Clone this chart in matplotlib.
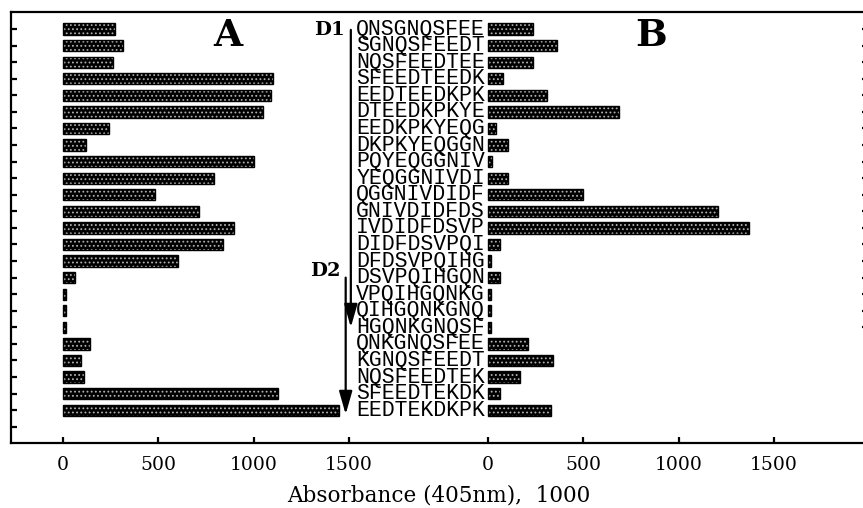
import matplotlib
matplotlib.use('Agg')
import matplotlib.pyplot as plt
import numpy as np

peptides = ["QNSGNQSFEE", "SGNQSFEEDT", "NQSFEEDTEE", "SFEEDTEEDK", "EEDTEEDKPK",
            "DTEEDKPKYE", "EEDKPKYEQG", "DKPKYEQGGN", "PQYEQGGNIV", "YEQGGNIVDI",
            "QGGNIVDIDF", "GNIVDIDFDS", "IVDIDFDSVP", "DIDFDSVPQI", "DFDSVPQIHG",
            "DSVPQIHGQN", "VPQIHGQNKG", "QIHGQNKGNQ", "HGQNKGNQSF", "QNKGNQSFEE",
            "KGNQSFEEDT", "NQSFEEDTEK", "SFEEDTEKDK", "EEDTEKDKPK"]
absorb_A = [273, 313, 261, 1100, 1090, 1051, 241, 119, 1002, 794, 483, 715,
            897, 841, 605, 65, 18, 18, 18, 142, 94, 112, 1130, 1448]
absorb_B = [238, 360, 238, 80, 308, 689, 42, 103, 20, 103, 497, 1209,
            1371, 65, 15, 63, 15, 15, 15, 210, 341, 166, 63, 332]
panel_B_offset = 2230
tick_values = [0, 500, 1000, 1500]
xlabel = "Absorbance (405nm),  1000"

plt.rcParams['font.family'] = ['DejaVu Serif']
plt.rcParams['hatch.linewidth'] = 0.8

fig = plt.figure(figsize=(8.63, 5.08), dpi=100)
ax = fig.add_axes([11/863, 1-443/508, (866-11)/863, (443-12)/508])

rows = np.arange(len(peptides))
h = 0.68
xa = np.array(absorb_A)
xb = np.array(absorb_B)
for vals, left in [(xa, 0), (xb, panel_B_offset)]:
    ax.barh(rows, vals, left=left, height=h, color='black', edgecolor='#b0b0b0',
            hatch='....', linewidth=0, zorder=2)
    ax.barh(rows, vals, left=left, height=h, fill=False, edgecolor='black',
            linewidth=1.0, zorder=3)

for r, p in zip(rows, peptides):
    ax.text(panel_B_offset - 16, r, p, ha='right', va='center',
            fontfamily='Liberation Mono', fontsize=15.5, color='black')

ax.text(865, 0.36, "A", ha='center', va='center', fontsize=27, fontweight='bold')
ax.text(panel_B_offset + 855, 0.36, "B", ha='center', va='center', fontsize=27, fontweight='bold')
ax.text(1479, 0.05, "D1", ha='right', va='center', fontsize=14, fontweight='bold')
ax.text(1454, 14.6, "D2", ha='right', va='center', fontsize=14, fontweight='bold')

arrow = dict(arrowstyle='-|>,head_length=0.7,head_width=0.2', lw=1.6, color='black',
             shrinkA=0, shrinkB=0, mutation_scale=20)
ax.annotate("", xy=(1510, 18.0), xytext=(1510, 0.05), arrowprops=arrow)
ax.annotate("", xy=(1483, 23.25), xytext=(1483, 15.0), arrowprops=arrow)

ax.set_xlim(-273, 4213)
ax.set_ylim(24.98, -1.03)

xt = tick_values + [v + panel_B_offset for v in tick_values]
ax.set_xticks(xt)
ax.set_xticklabels([str(v) for v in tick_values] * 2, fontsize=13.5)
ax.set_yticks(np.arange(len(peptides) + 1))
ax.set_yticklabels([])
ax.tick_params(axis='both', direction='in', length=4, width=1.6, colors='black')
ax.tick_params(axis='x', pad=9)
ax.set_xlabel(xlabel, fontsize=15.5, labelpad=8)

for s in ['left', 'bottom', 'top']:
    ax.spines[s].set_linewidth(1.6)
ax.spines['right'].set_visible(False)

ax2 = ax.twinx()
ax2.set_ylim(ax.get_ylim())
ax2.set_yticks(np.arange(19))
ax2.set_yticklabels([])
ax2.tick_params(axis='y', direction='in', length=3, width=1.6)
for s in ax2.spines.values():
    s.set_visible(False)

fig.savefig("out.png", dpi=100)
